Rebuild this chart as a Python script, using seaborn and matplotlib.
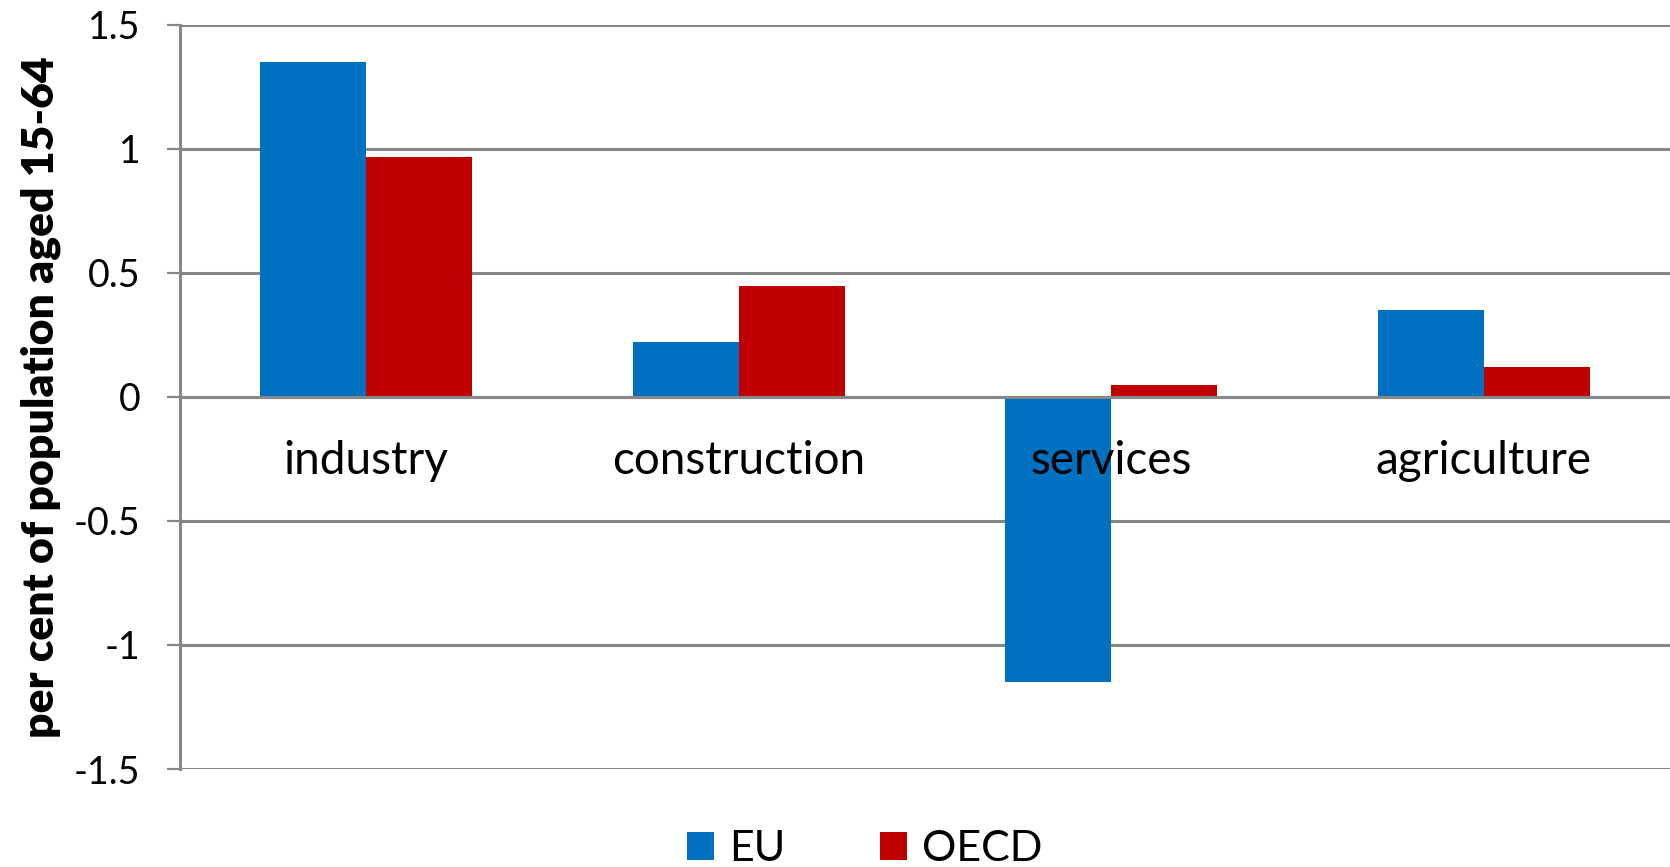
import matplotlib
matplotlib.use("Agg")
import matplotlib.pyplot as plt
import seaborn as sns
import pandas as pd
from matplotlib.patches import Patch

categories = ["industry", "construction", "services", "agriculture"]
series = ["EU", "OECD"]
eu_values = [1.35, 0.22, -1.15, 0.35]
oecd_values = [0.965, 0.445, 0.048, 0.12]
colors = ["#0070C0", "#C00000"]
y_ticks = [-1.5, -1, -0.5, 0, 0.5, 1, 1.5]
y_tick_labels = ["-1.5", "-1", "-0.5", "0", "0.5", "1", "1.5"]

df = pd.DataFrame({
    "sector": categories * 2,
    "series": ["EU"] * 4 + ["OECD"] * 4,
    "value": eu_values + oecd_values,
})

sns.set_style("white")
plt.rcParams["font.family"] = ["Lato", "DejaVu Sans"]
plt.rcParams["text.color"] = "black"
plt.rcParams["axes.labelcolor"] = "black"
plt.rcParams["xtick.labelcolor"] = "black"
plt.rcParams["ytick.labelcolor"] = "black"

fig = plt.figure(figsize=(16.7, 8.67), dpi=100)
ax = fig.add_axes([180 / 1670, 1 - 769 / 867, 1 - 180 / 1670, (769 - 24.5) / 867])

sns.barplot(data=df, x="sector", y="value", hue="series", order=categories,
            hue_order=series, palette=colors, width=0.57, gap=0,
            linewidth=0, saturation=1, ax=ax, legend=False)

grid_c = "#878787"
ax.set_ylim(-1.5, 1.5)
ax.set_xlim(-0.5, 3.5)
ax.set_yticks(y_ticks)
ax.set_yticklabels(y_tick_labels)
ax.set_axisbelow(True)
ax.yaxis.grid(True, color=grid_c, linewidth=2.2)
ax.xaxis.grid(False)
ax.xaxis.set_zorder(6)

for s in ["top", "right"]:
    ax.spines[s].set_visible(False)
ax.spines["left"].set_color(grid_c)
ax.spines["left"].set_linewidth(2.2)
ax.spines["bottom"].set_position(("data", 0))
ax.spines["bottom"].set_color(grid_c)
ax.spines["bottom"].set_linewidth(2.2)
ax.spines["bottom"].set_zorder(5)

ax.tick_params(axis="y", which="major", direction="out", length=9.5, width=1.6,
               color=grid_c, labelsize=27, pad=19, left=True, labelcolor="black")
ax.tick_params(axis="x", length=0, labelsize=33, pad=31, labelcolor="black")
ax.set_xlabel("")
ax.set_ylabel("per cent of population aged 15-64", fontsize=32, fontweight="heavy",
              va="center", color="black")
ax.yaxis.set_label_coords((41 - 180) / 1490, 0.5)

handles = [Patch(facecolor=c, edgecolor="none") for c in colors]
fig.legend(handles, series, loc="center", bbox_to_anchor=(865 / 1670, 1 - 849 / 867),
           ncol=2, frameon=False, fontsize=31, handlelength=0.63, handleheight=0.63,
           handletextpad=0.35, columnspacing=2.2, labelcolor="black")

fig.savefig("out.png", dpi=100)
